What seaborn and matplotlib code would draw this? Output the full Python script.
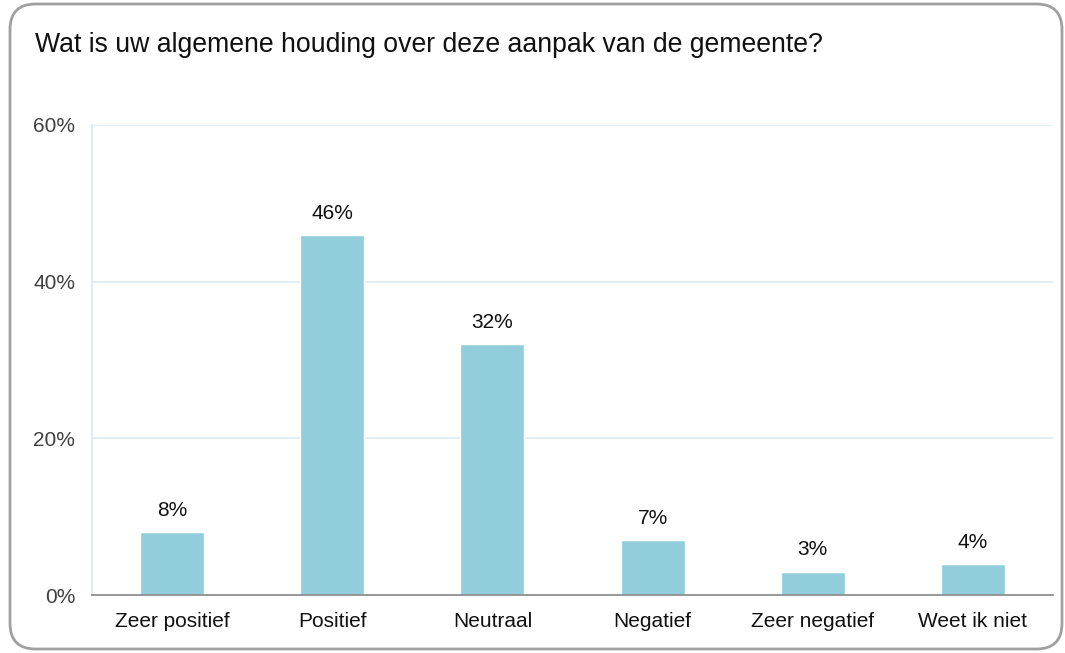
import os
import numpy as np
import pandas as pd
import matplotlib
matplotlib.use("Agg")
import matplotlib.pyplot as plt
import seaborn as sns
from matplotlib.patches import FancyBboxPatch

os.environ['MPLCONFIGDIR'] = '/tmp'

categories = ["Zeer positief", "Positief", "Neutraal", "Negatief", "Zeer negatief", "Weet ik niet"]
values = [8, 46, 32, 7, 3, 4]
yticks = [0, 20, 40, 60]
title = "Wat is uw algemene houding over deze aanpak van de gemeente?"

sns.set_style("white")
plt.rcParams['font.family'] = ['Liberation Sans', 'DejaVu Sans']

df = pd.DataFrame({"cat": categories, "val": values})

fig = plt.figure(figsize=(10.65, 6.53), dpi=100)
ax = fig.add_axes([0.0864, 0.0888, 0.9023, 0.7198])

sns.barplot(data=df, x="cat", y="val", color="#92CDDC", saturation=1, width=0.4, ax=ax)

ax.set_ylim(0, 60)
ax.set_xlim(-0.5, len(categories) - 0.5)
ax.set_yticks(yticks)
ax.set_yticklabels([f"{t}%" for t in yticks])
ax.yaxis.grid(True, color="#DCEBF3", linewidth=1.2)
ax.set_axisbelow(True)
ax.set_xlabel("")
ax.set_ylabel("")

# category labels at centers, tick marks between categories
ax.set_xticks(range(len(categories)))
ax.set_xticklabels(categories)
ax.set_xticks(np.arange(-0.5, len(categories)), minor=True)
ax.tick_params(axis="x", which="major", length=0, pad=12, labelsize=15, colors="#111111")
ax.tick_params(axis="x", which="minor", length=6, width=1.2, color="#808080", direction="out")
ax.tick_params(axis="y", length=0, pad=12, labelsize=15, labelcolor="#404040")

for side in ["top", "right"]:
    ax.spines[side].set_visible(False)
ax.spines["left"].set_color("#DCE6F2")
ax.spines["left"].set_linewidth(1.2)
ax.spines["bottom"].set_color("#888888")
ax.spines["bottom"].set_linewidth(1.2)

for i, v in enumerate(values):
    ax.annotate(f"{v}%", (i, v), xytext=(0, 15.5), textcoords="offset points",
                ha="center", va="center", fontsize=15, color="#111111")

fig.text(35 / 1065, 1 - 45 / 653, title, fontsize=19.2, color="#111111", va="center", ha="left")

border = FancyBboxPatch((10 / 1065, 4 / 653), 1052 / 1065, 645 / 653,
                        boxstyle="round,pad=0,rounding_size=0.024",
                        transform=fig.transFigure, fill=False,
                        edgecolor="#A0A0A0", linewidth=2, mutation_aspect=1065 / 653)
fig.patches.append(border)

plt.savefig("out.png", dpi=100)
plt.close()
